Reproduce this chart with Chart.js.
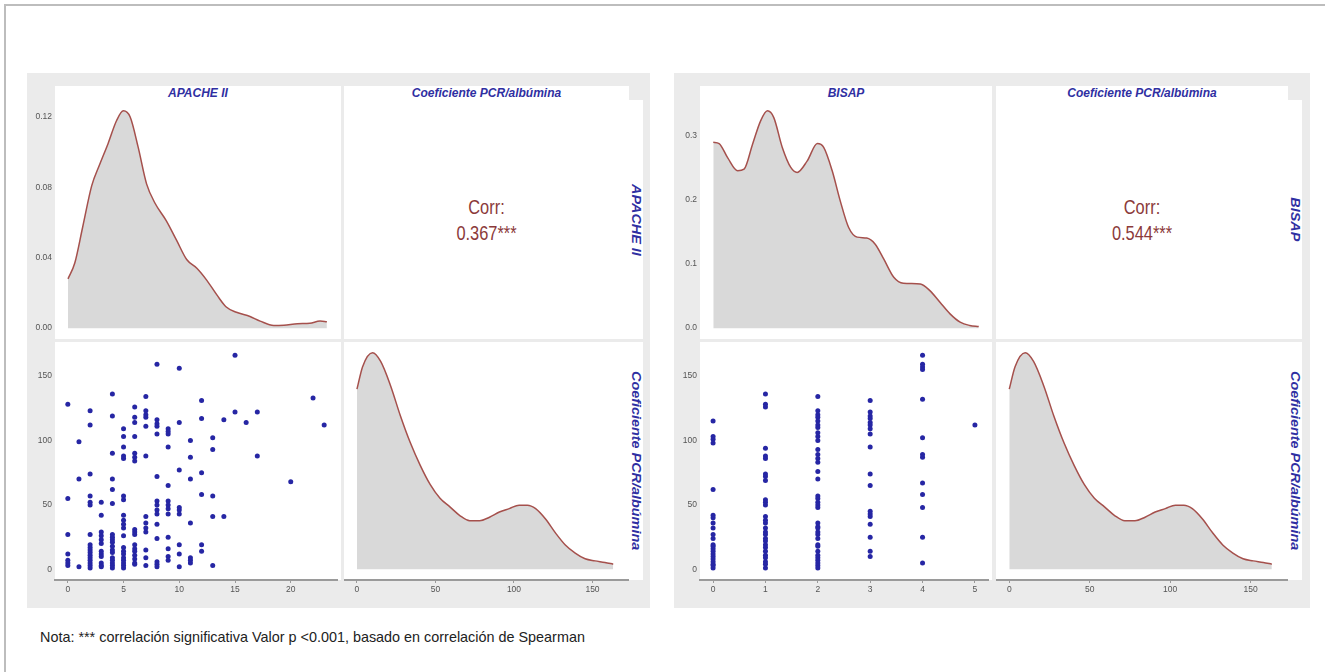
<!DOCTYPE html>
<html>
<head>
<meta charset="utf-8">
<script src="https://cdn.jsdelivr.net/npm/chart.js@4.4.0/dist/chart.umd.min.js"></script>
<style>
  body { margin: 0; background: #fff; font-family: "Liberation Sans", Arial, sans-serif; }
  #page { position: relative; width: 1325px; height: 672px; overflow: hidden; }
  .frame { position: absolute; left: 4px; top: 4px; width: 1340px; height: 700px;
           border-left: 2px solid #bdbdbd; border-top: 2px solid #bdbdbd; }
  .bg { position: absolute; background: #ebebeb; }
  .cell { position: absolute; background: #fff; }
  canvas { position: absolute; }
  .strip { position: absolute; color: #2f2fa2; font-weight: bold; font-style: italic;
           font-size: 12px; text-align: center; white-space: nowrap; }
  .vstrip { writing-mode: vertical-rl; transform: scaleY(1.2); }
  .corr { position: absolute; color: #8b3a3a; font-size: 21px; text-align: center; line-height: 26px;
          transform: scaleX(0.78); }
  .note { position: absolute; left: 40px; top: 629px; font-size: 14.4px; line-height: 16px; color: #222; }
</style>
</head>
<body>
<div id="page">
  <div class="frame"></div>
  <div class="note">Nota: *** correlación significativa Valor p &lt;0.001, basado en correlación de Spearman</div>
</div>
<script>
// ---- data ----
const varApache = "APACHE II";
const varBisap = "BISAP";
const varPcr = "Coeficiente PCR/albúmina";
const corrLabels = ["0.367***", "0.544***"];

// scatter: PCR/albumin values for each APACHE II score
const apacheLevels = [0, 1, 2, 3, 4, 5, 6, 7, 8, 9, 10, 11, 12, 13, 14, 15, 16, 17, 20, 22, 23];
const pcrByApache = [
  [128, 55, 27, 12, 7, 5, 3],
  [99, 70, 2],
  [123, 112, 74, 57, 52, 50, 27, 19, 17, 15, 13, 11, 9, 7, 5, 3, 1],
  [52, 42, 29, 26, 23, 20, 14, 12, 10, 5, 3, 2],
  [136, 119, 90, 70, 62, 51, 27, 25, 23, 21, 18, 15, 13, 9, 7, 5, 3, 1],
  [109, 103, 95, 88, 86, 57, 54, 42, 38, 35, 32, 26, 17, 14, 12, 9, 7, 5, 3, 1],
  [126, 118, 114, 103, 90, 87, 84, 31, 29, 27, 19, 16, 14, 11, 8, 5, 4],
  [134, 123, 120, 118, 111, 88, 41, 36, 32, 29, 15, 9, 3],
  [159, 116, 113, 111, 105, 72, 53, 50, 46, 43, 35, 24, 6, 4, 2],
  [109, 107, 105, 95, 65, 53, 50, 47, 43, 25, 16, 10, 7],
  [156, 114, 77, 48, 46, 43, 19, 12, 2],
  [100, 87, 70, 36, 9, 7, 5],
  [131, 117, 75, 58, 19, 14],
  [102, 93, 57, 41, 3],
  [116, 41],
  [166, 122],
  [114],
  [122, 88],
  [68],
  [133],
  [112]
];

// scatter: PCR/albumin values for each BISAP score
const bisapLevels = [0, 1, 2, 3, 4, 5];
const pcrByBisap = [
  [115, 103, 101, 98, 62, 42, 40, 36, 32, 27, 24, 19, 18, 16, 14, 12, 10, 8, 6, 4, 3, 1],
  [136, 128, 126, 94, 88, 86, 74, 72, 69, 54, 52, 50, 41, 38, 36, 32, 29, 27, 24, 22, 19, 17, 14, 11, 9, 6, 4, 1],
  [134, 123, 120, 118, 115, 112, 110, 106, 103, 100, 93, 89, 86, 83, 76, 70, 57, 55, 52, 50, 48, 36, 33, 32, 29, 27, 24, 19, 18, 14, 11, 9, 7, 5, 3, 1],
  [131, 122, 119, 117, 114, 112, 109, 105, 95, 74, 65, 45, 43, 41, 35, 25, 14, 10],
  [166, 159, 157, 155, 132, 102, 89, 87, 67, 58, 48, 25, 5],
  [112]
];

// density curves
const apacheDensX = [0, 0.6, 1.3, 2.1, 2.8, 3.55, 4.3, 4.9, 5.5, 6.2, 6.95, 7.7, 8.7, 9.6, 10.5, 11.4, 12.3, 13.2, 14.0, 14.9, 16.1, 17.0, 18.2, 19.1, 20.3, 21.4, 22.3, 22.9];
const apacheDensY = [0.028, 0.037, 0.0575, 0.081, 0.093, 0.105, 0.118, 0.1235, 0.120, 0.103, 0.082, 0.071, 0.061, 0.050, 0.039, 0.034, 0.027, 0.0186, 0.012, 0.009, 0.0066, 0.004, 0.0015, 0.0017, 0.0025, 0.0028, 0.004, 0.0036];

const bisapDensX = [0, 0.11, 0.27, 0.46, 0.58, 0.74, 0.89, 1.02, 1.14, 1.30, 1.46, 1.58, 1.77, 1.96, 2.08, 2.24, 2.39, 2.55, 2.71, 2.89, 3.05, 3.21, 3.40, 3.58, 3.90, 4.08, 4.27, 4.46, 4.65, 4.83, 5.0];
const bisapDensY = [0.29, 0.288, 0.266, 0.2455, 0.248, 0.287, 0.323, 0.339, 0.3285, 0.282, 0.2507, 0.243, 0.261, 0.288, 0.282, 0.2455, 0.199, 0.157, 0.142, 0.1406, 0.131, 0.108, 0.0794, 0.070, 0.069, 0.0586, 0.0405, 0.0223, 0.0093, 0.0042, 0.0026];

const pcrDensX = [0, 3.6, 9.9, 15.1, 21.4, 27.7, 34.0, 40.3, 46.6, 52.9, 59.2, 65.5, 71.8, 78.1, 84.4, 90.7, 97, 103.3, 108.5, 113.8, 120.1, 126.4, 132.7, 139.0, 145.3, 151.6, 157.9, 163.2];
const pcrDensY = [0.0104, 0.0117, 0.0125, 0.0120, 0.0106, 0.00885, 0.0073, 0.0060, 0.0049, 0.0041, 0.0036, 0.0031, 0.0028, 0.0028, 0.0030, 0.0033, 0.0035, 0.0037, 0.0037, 0.0035, 0.0029, 0.0021, 0.0014, 0.00093, 0.0006, 0.00048, 0.00039, 0.00029];

// tick labels
const apacheTicks = [0, 5, 10, 15, 20];
const bisapTicks = [0, 1, 2, 3, 4, 5];
const pcrTicks = [0, 50, 100, 150];
const apacheDensTicks = [0, 0.04, 0.08, 0.12];
const bisapDensTicks = [0, 0.1, 0.2, 0.3];

// ---- helpers ----
const TICK_FONT = { size: 8.5, family: "Liberation Sans, Arial, sans-serif" };
const expand = (lo, hi) => { const d = (hi - lo) * 0.05; return [lo - d, hi + d]; };
const toPoints = (xs, ys) => xs.map((x, i) => ({ x: x, y: ys[i] }));
const groupPoints = (levels, groups) => levels.flatMap((lv, i) => groups[i].map(y => ({ x: lv, y: y })));

function yAxis(range, ticks, digits) {
  return {
    type: "linear", position: "left", min: range[0], max: range[1],
    afterBuildTicks: s => { s.ticks = ticks.map(v => ({ value: v })); },
    afterFit: s => { s.width = 26; s.paddingTop = 0; s.paddingBottom = 0; },
    grid: { display: false, drawTicks: false },
    border: { display: false },
    ticks: { color: "#555", font: TICK_FONT, padding: 3, callback: v => v.toFixed(digits) }
  };
}
function xAxis(range, ticks) {
  return {
    type: "linear", position: "bottom", min: range[0], max: range[1],
    afterBuildTicks: s => { s.ticks = ticks.map(v => ({ value: v })); },
    afterFit: s => { s.height = 25; s.paddingLeft = 0; s.paddingRight = 0; },
    grid: { display: true, drawOnChartArea: false, drawTicks: true, tickLength: 3, color: "#9a9a9a" },
    border: { display: true, color: "#9a9a9a", width: 2 },
    ticks: { color: "#555", font: TICK_FONT, padding: 2, autoSkip: false, callback: v => String(v) }
  };
}
const hidden = range => ({ type: "linear", display: false, min: range[0], max: range[1] });

function densitySet(pts) {
  return {
    data: pts, fill: "origin", backgroundColor: "#d9d9d9", borderColor: "#a5504c",
    borderWidth: 1.5, pointRadius: 0, cubicInterpolationMode: "monotone"
  };
}
function scatterSet(pts) {
  return { data: pts, pointRadius: 2.5, pointBackgroundColor: "#2626a4", pointBorderWidth: 0 };
}

const page = document.getElementById("page");
function box(cls, x, y, w, h, html) {
  const d = document.createElement("div");
  d.className = cls;
  Object.assign(d.style, { left: x + "px", top: y + "px", width: w + "px", height: h + "px" });
  if (html !== undefined) d.innerHTML = html;
  page.appendChild(d);
  return d;
}
function chartAt(x, y, w, h, type, datasets, scales) {
  const c = document.createElement("canvas");
  c.width = w; c.height = h;
  c.style.left = x + "px"; c.style.top = y + "px";
  page.appendChild(c);
  return new Chart(c, {
    type: type,
    data: { datasets: datasets },
    options: {
      responsive: false, animation: false, devicePixelRatio: 1,
      layout: { padding: 0 },
      plugins: { legend: { display: false }, tooltip: { enabled: false } },
      scales: scales
    }
  });
}

// ---- layout ----
const STRIP_TOP = 86, R1 = [100, 239], R2 = [342, 238];
const pcrRange = expand(0, 165);

const panels = [
  { bg: [27, 650], c1: [55, 286], c2: [344, 285], rowVar: varApache,
    levels: apacheLevels, groups: pcrByApache, lvTicks: apacheTicks, lvRange: expand(0, 23),
    densX: apacheDensX, densY: apacheDensY, densTicks: apacheDensTicks, digits: 2, corr: corrLabels[0] },
  { bg: [674, 1310], c1: [700, 292], c2: [996, 292], rowVar: varBisap,
    levels: bisapLevels, groups: pcrByBisap, lvTicks: bisapTicks, lvRange: expand(0, 5),
    densX: bisapDensX, densY: bisapDensY, densTicks: bisapDensTicks, digits: 1, corr: corrLabels[1] }
];

panels.forEach(p => {
  const [c1x, c1w] = p.c1, [c2x, c2w] = p.c2;
  const stripX = c2x + c2w, stripW = 14;
  box("bg", p.bg[0], 73, p.bg[1] - p.bg[0], 535);
  // white panels (top strip merged with first row)
  box("cell", c1x, STRIP_TOP, c1w, R1[0] + R1[1] - STRIP_TOP);
  box("cell", c2x, STRIP_TOP, c2w, R1[0] + R1[1] - STRIP_TOP);
  box("cell", c1x, R2[0], c1w, R2[1]);
  box("cell", c2x, R2[0], c2w, R2[1]);
  box("cell", stripX, R1[0], stripW, R1[1]);
  box("cell", stripX, R2[0], stripW, R2[1]);

  // strip labels
  const s1 = box("strip", c1x, STRIP_TOP, c1w, 14, p.rowVar); s1.style.lineHeight = "14px";
  const s2 = box("strip", c2x, STRIP_TOP, c2w, 14, varPcr); s2.style.lineHeight = "14px";
  const v1 = box("strip vstrip", stripX, R1[0], stripW, R1[1], p.rowVar); v1.style.lineHeight = stripW + "px";
  const v2 = box("strip vstrip", stripX, R2[0], stripW, R2[1], varPcr); v2.style.lineHeight = stripW + "px";

  // correlation text
  box("corr", c2x, R1[0] + R1[1] / 2 - 26, c2w, 52, "Corr:<br>" + p.corr);

  // diagonal density of the row variable (top-left)
  const dMax = Math.max.apply(null, p.densY);
  chartAt(c1x - 26, R1[0], c1w + 26, R1[1], "line",
    [densitySet(toPoints(p.densX, p.densY))],
    { x: hidden(p.lvRange), y: yAxis(expand(0, dMax), p.densTicks, p.digits) });

  // scatter (bottom-left)
  chartAt(c1x - 26, R2[0], c1w + 26, R2[1] + 25, "scatter",
    [scatterSet(groupPoints(p.levels, p.groups))],
    { x: xAxis(p.lvRange, p.lvTicks), y: yAxis(pcrRange, pcrTicks, 0) });

  // diagonal density of PCR/albumin (bottom-right)
  const pMax = Math.max.apply(null, pcrDensY);
  chartAt(c2x, R2[0], c2w, R2[1] + 25, "line",
    [densitySet(toPoints(pcrDensX, pcrDensY))],
    { x: xAxis(pcrRange, pcrTicks), y: hidden(expand(0, pMax)) });
});
</script>
</body>
</html>
